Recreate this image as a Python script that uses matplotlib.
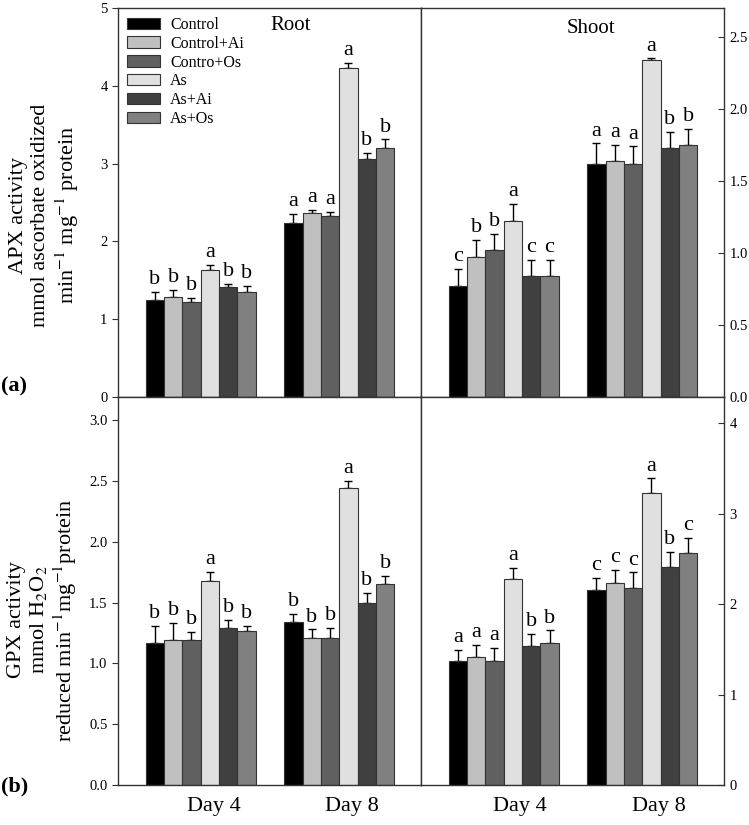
import matplotlib
matplotlib.use("Agg")
from matplotlib import pyplot as plt
from matplotlib.patches import Patch
import numpy as np

plt.rcParams['font.family'] = ['Liberation Serif', 'DejaVu Serif']
plt.rcParams['mathtext.fontset'] = 'stix'

treatments = ["Control", "Control+Ai", "Contro+Os", "As", "As+Ai", "As+Os"]
colors = ["#000000", "#c0c0c0", "#606060", "#e0e0e0", "#404040", "#808080"]
days = ["Day 4", "Day 8"]

# APX root (mean, upper error) per day
apx_root_d4 = [1.25, 1.28, 1.22, 1.63, 1.41, 1.35]
apx_root_d4_err = [0.10, 0.10, 0.05, 0.07, 0.04, 0.08]
apx_root_d8 = [2.24, 2.36, 2.33, 4.23, 3.06, 3.20]
apx_root_d8_err = [0.11, 0.05, 0.05, 0.06, 0.08, 0.11]
apx_root_letters = [["b", "b", "b", "a", "b", "b"], ["a", "a", "a", "a", "b", "b"]]

# APX shoot
apx_shoot_d4 = [0.77, 0.97, 1.02, 1.22, 0.84, 0.84]
apx_shoot_d4_err = [0.12, 0.12, 0.11, 0.12, 0.11, 0.11]
apx_shoot_d8 = [1.62, 1.64, 1.62, 2.34, 1.73, 1.75]
apx_shoot_d8_err = [0.14, 0.11, 0.12, 0.01, 0.11, 0.11]
apx_shoot_letters = [["c", "b", "b", "a", "c", "c"], ["a", "a", "a", "a", "b", "b"]]

# GPX root
gpx_root_d4 = [1.17, 1.19, 1.19, 1.68, 1.29, 1.27]
gpx_root_d4_err = [0.14, 0.14, 0.07, 0.07, 0.07, 0.04]
gpx_root_d8 = [1.34, 1.21, 1.21, 2.44, 1.50, 1.65]
gpx_root_d8_err = [0.07, 0.07, 0.08, 0.06, 0.08, 0.07]
gpx_root_letters = [["b", "b", "b", "a", "b", "b"], ["b", "b", "b", "a", "b", "b"]]

# GPX shoot
gpx_shoot_d4 = [1.37, 1.42, 1.37, 2.28, 1.54, 1.57]
gpx_shoot_d4_err = [0.12, 0.13, 0.15, 0.12, 0.13, 0.14]
gpx_shoot_d8 = [2.16, 2.23, 2.18, 3.23, 2.41, 2.56]
gpx_shoot_d8_err = [0.13, 0.15, 0.17, 0.16, 0.17, 0.17]
gpx_shoot_letters = [["a", "a", "a", "a", "b", "b"], ["c", "c", "c", "a", "b", "c"]]

group_left = [1.5, 9.05]
edge = "#333333"


def draw_panel(ax, d4, d4e, d8, d8e, letters):
    for g, (vals, errs) in enumerate([(d4, d4e), (d8, d8e)]):
        x = group_left[g] + 0.5 + np.arange(len(vals))
        ax.bar(x, vals, width=1.0, color=colors, edgecolor=edge, linewidth=0.8, zorder=2)
        ax.errorbar(x, vals, yerr=[np.zeros(len(vals)), errs], fmt="none",
                    ecolor="black", elinewidth=1.0, capsize=3, capthick=1.0, zorder=1)
        for xi, v, e, l in zip(x, vals, errs, letters[g]):
            ax.annotate(l, (xi, v + e), xytext=(0, 2), textcoords="offset points",
                        ha="center", va="bottom", fontsize=16)
    ax.set_xlim(0, 16.5)
    for s in ax.spines.values():
        s.set_color(edge)
        s.set_linewidth(1.0)


fig = plt.figure(figsize=(7.49, 8.25), dpi=100)
x0, xm, x1 = 118 / 749, 421 / 749, 724 / 749
yb, ym, yt = 1 - 785 / 825, 1 - 397 / 825, 1 - 8 / 825

ax_a1 = fig.add_axes([x0, ym, xm - x0, yt - ym])
ax_a2 = fig.add_axes([xm, ym, x1 - xm, yt - ym])
ax_b1 = fig.add_axes([x0, yb, xm - x0, ym - yb])
ax_b2 = fig.add_axes([xm, yb, x1 - xm, ym - yb])

draw_panel(ax_a1, apx_root_d4, apx_root_d4_err, apx_root_d8, apx_root_d8_err, apx_root_letters)
draw_panel(ax_a2, apx_shoot_d4, apx_shoot_d4_err, apx_shoot_d8, apx_shoot_d8_err, apx_shoot_letters)
draw_panel(ax_b1, gpx_root_d4, gpx_root_d4_err, gpx_root_d8, gpx_root_d8_err, gpx_root_letters)
draw_panel(ax_b2, gpx_shoot_d4, gpx_shoot_d4_err, gpx_shoot_d8, gpx_shoot_d8_err, gpx_shoot_letters)

ax_a1.set_ylim(0, 5)
ax_a1.set_yticks([0, 1, 2, 3, 4, 5])
ax_a2.set_ylim(0, 2.70)
ax_a2.set_yticks([0.0, 0.5, 1.0, 1.5, 2.0, 2.5])
ax_a2.set_yticklabels(["0.0", "0.5", "1.0", "1.5", "2.0", "2.5"])
ax_b1.set_ylim(0, 3.19)
ax_b1.set_yticks([0.0, 0.5, 1.0, 1.5, 2.0, 2.5, 3.0])
ax_b1.set_yticklabels(["0.0", "0.5", "1.0", "1.5", "2.0", "2.5", "3.0"])
ax_b2.set_ylim(0, 4.29)
ax_b2.set_yticks([0, 1, 2, 3, 4])

for ax in [ax_a1, ax_b1]:
    ax.tick_params(axis="y", direction="out", length=4, labelsize=10.5, color=edge)
for ax in [ax_a2, ax_b2]:
    ax.yaxis.tick_right()
    ax.tick_params(axis="y", direction="in", length=4, labelsize=10.5, color=edge, pad=4)

for ax in [ax_a1, ax_a2]:
    ax.set_xticks([])
for ax, off in [(ax_b1, 0.7), (ax_b2, 0.9)]:
    ax.set_xticks([group_left[0] + 3 + off, group_left[1] + 3 + off])
    ax.set_xticklabels(days, fontsize=16)
    ax.tick_params(axis="x", length=0, pad=9)

ax_a1.text(0.57, 0.955, "Root", transform=ax_a1.transAxes, ha="center", va="center", fontsize=15)
ax_a2.text(0.56, 0.948, "Shoot", transform=ax_a2.transAxes, ha="center", va="center", fontsize=15)

handles = [Patch(facecolor=c, edgecolor=edge, linewidth=0.8) for c in colors]
ax_a1.legend(handles, treatments, loc="upper left", bbox_to_anchor=(0.0, 1.0), frameon=False,
             fontsize=11.5, handlelength=2.1, handleheight=0.7, labelspacing=0.18,
             handletextpad=0.6, borderaxespad=0.15)

fig.text(45 / 749, 1 - 215 / 825,
         "APX activity\nmmol ascorbate oxidized\nmin$^{-1}$ mg$^{-1}$ protein",
         rotation=90, ha="center", va="center", multialignment="center",
         fontsize=16, linespacing=1.2)
fig.text(43 / 749, 1 - 620 / 825,
         "GPX activity\nmmol H$_2$O$_2$\nreduced min$^{-1}$mg$^{-1}$protein",
         rotation=90, ha="center", va="center", multialignment="center",
         fontsize=16, linespacing=1.1)

fig.text(0.002, 1 - 386 / 825, "(a)", fontsize=16, fontweight="bold", ha="left", va="center")
fig.text(0.002, 1 - 786 / 825, "(b)", fontsize=16, fontweight="bold", ha="left", va="center")

fig.savefig("out.png", dpi=100)
plt.close()
